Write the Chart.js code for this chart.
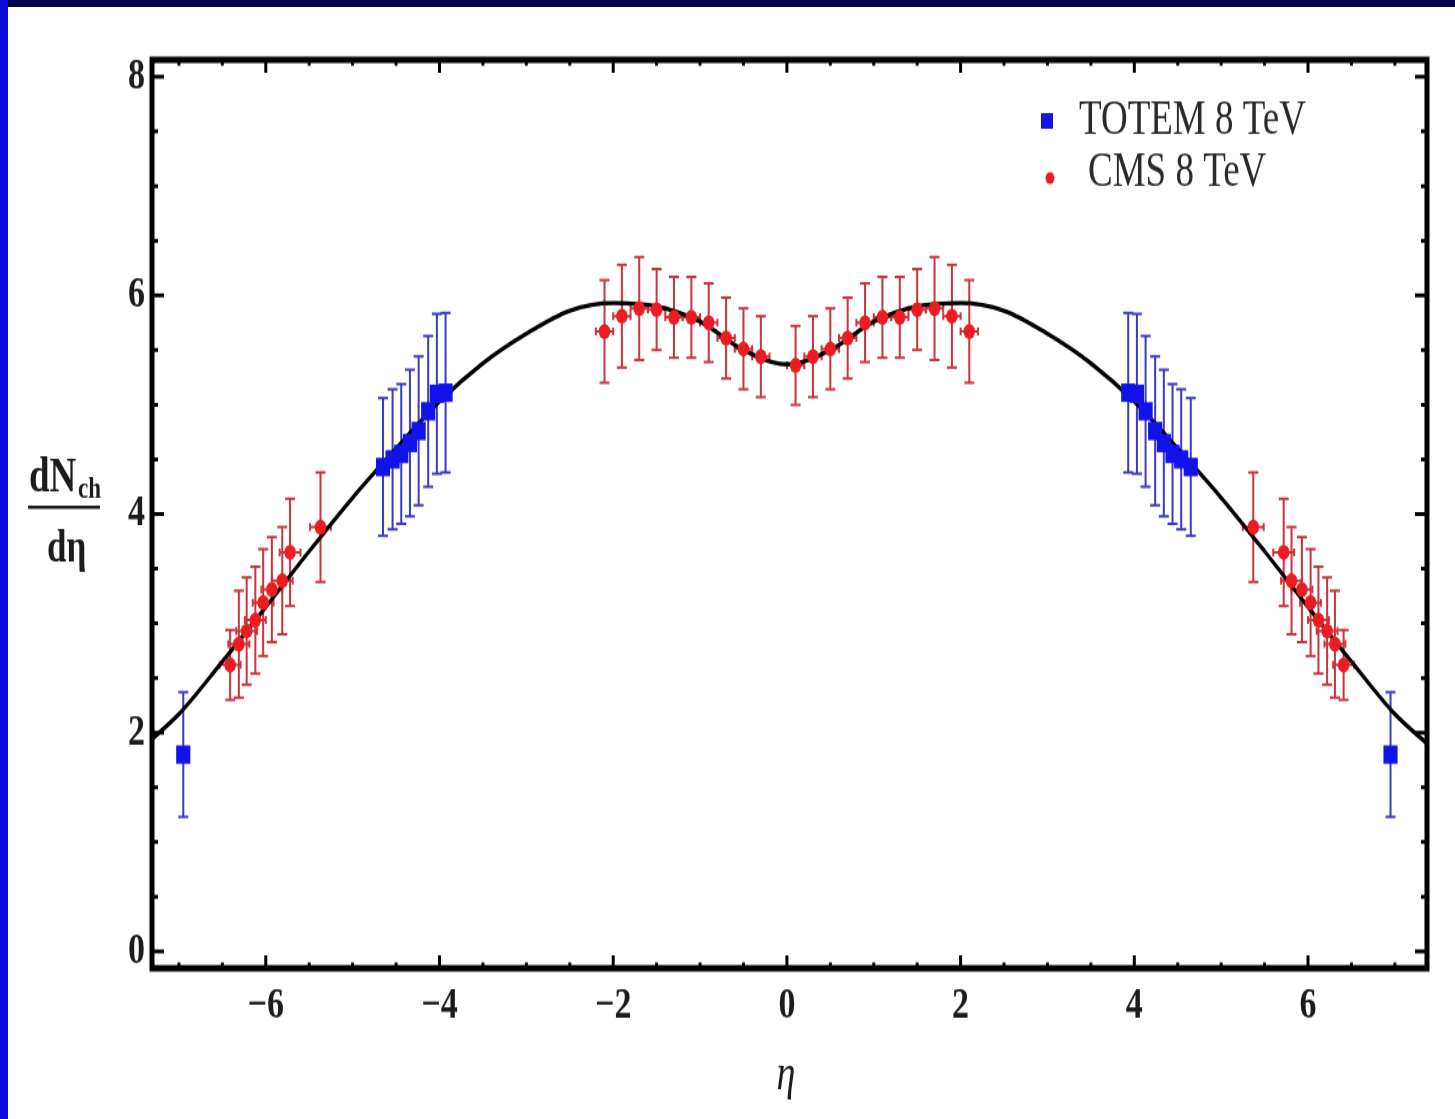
<!DOCTYPE html>
<html>
<head>
<meta charset="utf-8">
<script src="https://cdn.jsdelivr.net/npm/chart.js@4.4.1/dist/chart.umd.min.js"></script>
<style>
  html, body { margin: 0; padding: 0; background: #fff; overflow: hidden; }
  #wrap { position: relative; width: 1455px; height: 1119px; }
  #c { display: block; transform: scaleY(1.2997); transform-origin: 0 0; }
  .edge { position: absolute; }
</style>
</head>
<body>
<div id="wrap">
  <canvas id="c" width="1455" height="861"></canvas>
  <div class="edge" style="left:0;top:0;width:1455px;height:7px;background:#00004e"></div>
  <div class="edge" style="left:0;top:0;width:8px;height:1119px;background:#0a0ad2"></div>
</div>
<script>
// model curve
const curveEta = [-7.4,-7,-6.5,-6,-5.5,-5,-4.5,-4,-3.5,-3,-2.5,-2,-1.5,-1,-0.5,0,0.5,1,1.5,2,2.5,3,3.5,4,4.5,5,5.5,6,6.5,7,7.4];
const curveVal = [1.88,2.17,2.65,3.15,3.66,4.15,4.60,5.03,5.38,5.65,5.86,5.93,5.90,5.76,5.50,5.37,5.50,5.76,5.90,5.93,5.86,5.65,5.38,5.03,4.60,4.15,3.66,3.15,2.65,2.17,1.88];

// CMS 8 TeV, central region
const cmsEta = [-2.1,-1.9,-1.7,-1.5,-1.3,-1.1,-0.9,-0.7,-0.5,-0.3,0.1,0.3,0.5,0.7,0.9,1.1,1.3,1.5,1.7,1.9,2.1];
const cmsVal = [5.67,5.81,5.88,5.87,5.80,5.80,5.75,5.61,5.51,5.44,5.36,5.44,5.51,5.61,5.75,5.80,5.80,5.87,5.88,5.81,5.67];
const cmsErr = [0.47,0.47,0.47,0.37,0.37,0.37,0.36,0.37,0.37,0.37,0.36,0.37,0.37,0.37,0.36,0.37,0.37,0.37,0.47,0.47,0.47];
const cmsEtaErr = 0.1;

// CMS 8 TeV, forward region (both sides)
const cmsFwdEta = [-6.41,-6.31,-6.22,-6.12,-6.03,-5.93,-5.81,-5.72,-5.37,5.37,5.72,5.81,5.93,6.03,6.12,6.22,6.31,6.41];
const cmsFwdVal = [2.62,2.81,2.93,3.03,3.19,3.31,3.39,3.65,3.88,3.88,3.65,3.39,3.31,3.19,3.03,2.93,2.81,2.62];
const cmsFwdErr = [0.32,0.49,0.49,0.49,0.49,0.48,0.49,0.49,0.50,0.50,0.49,0.49,0.48,0.49,0.49,0.49,0.49,0.32];
const cmsFwdEtaErr = 0.12;

// TOTEM 8 TeV
const totemEta = [-6.95,-4.65,-4.54,-4.44,-4.34,-4.24,-4.13,-4.03,-3.93,3.93,4.03,4.13,4.24,4.34,4.44,4.54,4.65,6.95];
const totemVal = [1.80,4.43,4.50,4.55,4.65,4.76,4.94,5.10,5.11,5.11,5.10,4.94,4.76,4.65,4.55,4.50,4.43,1.80];
const totemErr = [0.57,0.63,0.64,0.64,0.67,0.68,0.69,0.73,0.73,0.73,0.73,0.69,0.68,0.67,0.64,0.64,0.63,0.57];
const totemEtaErr = [0,0.05,0.05,0.05,0.05,0.05,0.05,0.05,0.05,0.05,0.05,0.05,0.05,0.05,0.05,0.05,0.05,0];

const xMajor = [-6,-4,-2,0,2,4,6];
const yMajor = [0,2,4,6,8];
const xLabels = ['\u22126','\u22124','\u22122','0','2','4','6'];
const yLabels = ['0','2','4','6','8'];

const pts = (xs, ys) => xs.map((x, i) => ({x: x, y: ys[i]}));

const errorBars = {
  id: 'errorBars',
  beforeDatasetsDraw(chart) {
    const c = chart.ctx, xs = chart.scales.x, ys = chart.scales.y;
    const draw = (eta, val, err, exErr, color) => {
      c.save();
      c.strokeStyle = color;
      c.lineWidth = 2;
      eta.forEach((e, i) => {
        const px = xs.getPixelForValue(e);
        const py = ys.getPixelForValue(val[i]);
        const y1 = ys.getPixelForValue(val[i] + err[i]);
        const y2 = ys.getPixelForValue(val[i] - err[i]);
        const ex = Array.isArray(exErr) ? exErr[i] : exErr;
        c.beginPath();
        c.moveTo(px, y1); c.lineTo(px, y2);
        c.moveTo(px - 5, y1); c.lineTo(px + 5, y1);
        c.moveTo(px - 5, y2); c.lineTo(px + 5, y2);
        if (ex > 0) {
          const x1 = xs.getPixelForValue(e - ex), x2 = xs.getPixelForValue(e + ex);
          c.moveTo(x1, py); c.lineTo(x2, py);
          c.moveTo(x1, py - 3); c.lineTo(x1, py + 3);
          c.moveTo(x2, py - 3); c.lineTo(x2, py + 3);
        }
        c.stroke();
      });
      c.restore();
    };
    draw(cmsEta, cmsVal, cmsErr, cmsEtaErr, '#c9343e');
    draw(cmsFwdEta, cmsFwdVal, cmsFwdErr, cmsFwdEtaErr, '#c9343e');
    draw(totemEta, totemVal, totemErr, totemEtaErr, '#3a3ac4');
  }
};

const frame = {
  id: 'frame',
  afterDatasetsDraw(chart) {
    const c = chart.ctx, a = chart.chartArea, xs = chart.scales.x, ys = chart.scales.y;
    c.save();
    c.strokeStyle = '#000';
    c.lineWidth = 3;
    c.beginPath();
    for (let v = -7; v <= 7.001; v += 0.5) {
      const px = xs.getPixelForValue(v);
      const len = xMajor.includes(v) ? 10 : 4.5;
      c.moveTo(px, a.bottom); c.lineTo(px, a.bottom - len);
      c.moveTo(px, a.top); c.lineTo(px, a.top + len);
    }
    for (let v = 0; v <= 8.001; v += 0.5) {
      const py = ys.getPixelForValue(v);
      const len = yMajor.includes(v) ? 12 : 6;
      c.moveTo(a.left, py); c.lineTo(a.left + len, py);
      c.moveTo(a.right, py); c.lineTo(a.right - len, py);
    }
    c.stroke();
    c.lineWidth = 5;
    c.strokeRect(a.left, a.top, a.right - a.left, a.bottom - a.top);
    c.restore();
  }
};

const labels = {
  id: 'labels',
  afterDraw(chart) {
    const c = chart.ctx, xs = chart.scales.x, ys = chart.scales.y;
    c.save();
    c.fillStyle = '#1c1c1c';
    c.font = 'bold 34px "Liberation Serif"';
    c.textAlign = 'right';
    c.textBaseline = 'middle';
    yMajor.forEach((v, i) => c.fillText(yLabels[i], 145, ys.getPixelForValue(v)));
    c.textAlign = 'center';
    xMajor.forEach((v, i) => c.fillText(xLabels[i], xs.getPixelForValue(v), 774));

    // axis titles
    c.font = 'italic 38px "Liberation Serif"';
    c.textBaseline = 'alphabetic';
    c.fillText('\u03b7', 786, 838);

    c.textAlign = 'left';
    c.font = 'bold 37px "Liberation Serif"';
    c.fillText('dN', 29, 378);
    c.font = 'bold 23px "Liberation Serif"';
    c.fillText('ch', 78, 383);
    c.fillRect(28, 389, 72, 2.5);
    c.font = 'bold 35px "Liberation Serif"';
    c.fillText('d\u03b7', 47, 432);

    // legend
    c.fillStyle = '#1414e6';
    c.fillRect(1041, 87, 12, 12);
    c.fillStyle = '#e41e24';
    c.beginPath(); c.arc(1050, 137, 4.5, 0, Math.PI * 2); c.fill();
    c.fillStyle = '#2a2a2a';
    c.font = '37px "Liberation Serif"';
    c.textBaseline = 'middle';
    c.fillText('TOTEM 8 TeV', 1079, 93);
    c.fillText('CMS 8 TeV', 1088, 133);
    c.restore();
  }
};

new Chart(document.getElementById('c'), {
  type: 'scatter',
  data: {
    datasets: [
      {
        label: 'model',
        data: pts(curveEta, curveVal),
        showLine: true,
        borderColor: '#000',
        borderWidth: 3.4,
        pointRadius: 0,
        cubicInterpolationMode: 'monotone',
        order: 3
      },
      {
        label: 'CMS 8 TeV',
        data: pts(cmsEta, cmsVal).concat(pts(cmsFwdEta, cmsFwdVal)),
        pointStyle: 'circle',
        pointRadius: 5.8,
        backgroundColor: '#ec1c22',
        borderColor: '#ec1c22',
        borderWidth: 0,
        order: 2
      },
      {
        label: 'TOTEM 8 TeV',
        data: pts(totemEta, totemVal),
        pointStyle: 'rect',
        pointRadius: 10,
        backgroundColor: '#1212ea',
        borderColor: '#1212ea',
        borderWidth: 0,
        order: 1
      }
    ]
  },
  options: {
    responsive: false,
    animation: false,
    layout: { padding: { left: 152, right: 28, top: 46, bottom: 116 } },
    plugins: { legend: { display: false }, tooltip: { enabled: false } },
    scales: {
      x: { type: 'linear', min: -7.31, max: 7.37, display: false },
      y: { type: 'linear', min: -0.155, max: 8.155, display: false }
    }
  },
  plugins: [errorBars, frame, labels]
});
</script>
</body>
</html>
